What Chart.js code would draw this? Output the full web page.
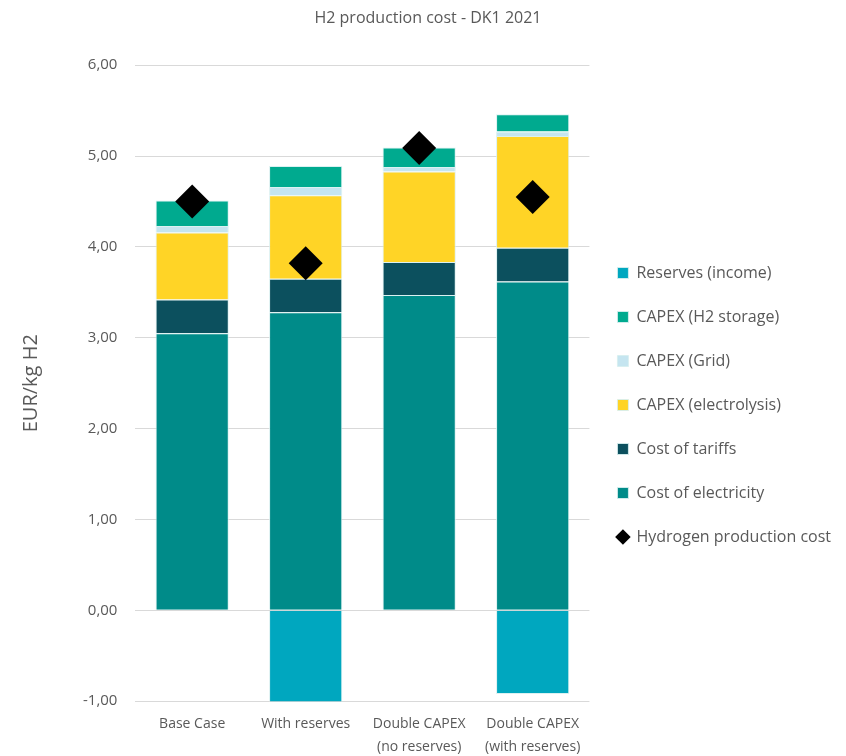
<!DOCTYPE html>
<html>
<head>
<meta charset="utf-8">
<script src="https://cdn.jsdelivr.net/npm/chart.js@4/dist/chart.umd.min.js"></script>
<style>
  html, body { margin: 0; padding: 0; background: #fff; }
  #wrap { width: 846px; height: 756px; }
</style>
</head>
<body>
<div id="wrap"><canvas id="chart" width="846" height="756"></canvas></div>
<script>
'use strict';

// ---- Data (EUR/kg H2) ----
const scenarios = [
  'Base Case',
  'With reserves',
  ['Double CAPEX', '(no reserves)'],
  ['Double CAPEX', '(with reserves)']
];
const costElectricity = [3.05, 3.28, 3.47, 3.62];
const costTariffs     = [0.37, 0.37, 0.365, 0.37];
const capexElectrolys = [0.74, 0.92, 0.995, 1.23];
const capexGrid       = [0.07, 0.09, 0.05, 0.05];
const capexStorage    = [0.28, 0.23, 0.215, 0.19];
const reservesIncome  = [0, -1.03, 0, -0.92];
const h2Cost          = [4.50, 3.82, 5.09, 4.55];

const yTicks = [-1, 0, 1, 2, 3, 4, 5, 6];

// legend order as in the original
const legendOrder = [
  'Reserves (income)', 'CAPEX (H2 storage)', 'CAPEX (Grid)',
  'CAPEX (electrolysis)', 'Cost of tariffs', 'Cost of electricity',
  'Hydrogen production cost'
];

const GREY = '#595959';
const FONT = '"Open Sans", sans-serif';

function barSet(label, data, color) {
  return {
    type: 'bar',
    label,
    data,
    backgroundColor: color,
    borderColor: 'rgba(215,240,240,0.9)',
    borderWidth: 1,
    pointStyle: 'rect',
    stack: 's',
    order: 2,
    categoryPercentage: 1,
    barPercentage: 0.645
  };
}

new Chart(document.getElementById('chart'), {
  data: {
    labels: scenarios,
    datasets: [
      barSet('Cost of electricity', costElectricity, '#008B89'),
      barSet('Cost of tariffs', costTariffs, '#0C505E'),
      barSet('CAPEX (electrolysis)', capexElectrolys, '#FFD426'),
      barSet('CAPEX (Grid)', capexGrid, '#C5E5F0'),
      barSet('CAPEX (H2 storage)', capexStorage, '#00AA8F'),
      barSet('Reserves (income)', reservesIncome, '#00A7BF'),
      {
        type: 'line',
        label: 'Hydrogen production cost',
        data: h2Cost,
        showLine: false,
        pointStyle: 'rectRot',
        pointRadius: 17,
        pointHoverRadius: 17,
        backgroundColor: '#000',
        borderColor: '#000',
        borderWidth: 0,
        order: 0
      }
    ]
  },
  options: {
    responsive: false,
    animation: false,
    layout: { padding: { left: 15, right: 5, top: 4, bottom: -6 } },
    plugins: {
      title: {
        display: true,
        text: 'H2 production cost - DK1 2021',
        color: GREY,
        font: { family: FONT, size: 16, weight: 'normal' },
        padding: { top: 5, bottom: 37 }
      },
      legend: {
        position: 'right',
        align: 'center',
        maxWidth: 264,
        title: {
          display: true,
          text: ' ',
          font: { size: 10, lineHeight: 1 },
          padding: 17
        },
        labels: {
          usePointStyle: true,
          boxWidth: 11,
          boxHeight: 11,
          padding: 28,
          color: GREY,
          font: { family: FONT, size: 16, lineHeight: 1 },
          sort: (a, b) => legendOrder.indexOf(a.text) - legendOrder.indexOf(b.text)
        }
      },
      tooltip: { enabled: false }
    },
    scales: {
      x: {
        stacked: true,
        grid: { display: false },
        border: { display: false },
        ticks: {
          color: GREY,
          font: { family: FONT, size: 14, lineHeight: 1.6 },
          padding: 4,
          maxRotation: 0,
          autoSkip: false
        }
      },
      y: {
        stacked: true,
        min: -1,
        max: 6,
        afterBuildTicks: axis => { axis.ticks = yTicks.map(v => ({ value: v })); },
        grid: { color: '#D9D9D9', lineWidth: 1, drawTicks: false },
        border: { display: false },
        title: {
          display: true,
          text: 'EUR/kg H2',
          color: GREY,
          font: { family: FONT, size: 20 },
          padding: { bottom: 22 }
        },
        ticks: {
          color: GREY,
          font: { family: FONT, size: 15 },
          padding: 18,
          callback: v => Number(v).toFixed(2).replace('.', ',')
        }
      }
    }
  }
});
</script>
</body>
</html>
